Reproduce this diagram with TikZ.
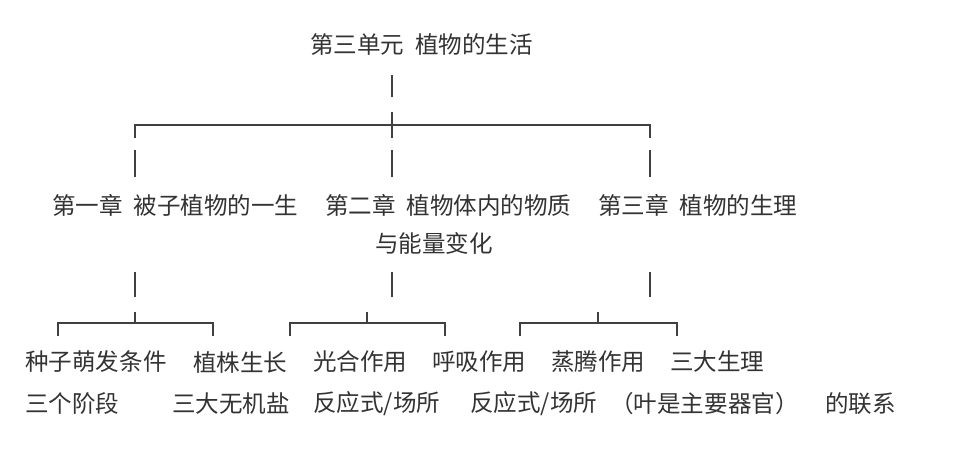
\documentclass[tikz,border=0pt]{standalone}
\usepackage{fontspec}
\newfontfamily\cjk{Noto Sans CJK SC}
\begin{document}
\begin{tikzpicture}[
    x=0.02cm, y=-0.02cm,
    txt/.style={anchor=west, inner sep=0pt, font=\cjk\fontsize{13.4pt}{15pt}\selectfont, text=black!80},
    ln/.style={draw=black!75, line width=0.6pt}
]
\useasboundingbox (0,0) rectangle (960,453);

% title and chapters
\node[txt] (unit) at (310,45) {第三单元\ \ 植物的生活};
\node[txt] (ch1) at (52,205) {第一章\ \ 被子植物的一生};
\node[txt] (ch2) at (325,205) {第二章\ \ 植物体内的物质};
\node[txt] (ch2b) at (375,243) {与能量变化};
\node[txt] (ch3) at (598,205) {第三章\ \ 植物的生理};

% leaves
\node[txt] (a1) at (25,362) {种子萌发条件};
\node[txt] (a2) at (25,404) {三个阶段};
\node[txt] (b1) at (193,362) {植株生长};
\node[txt] (b2) at (172,404) {三大无机盐};
\node[txt] (c1) at (313,362) {光合作用};
\node[txt] (c2) at (313,404) {反应式/场所};
\node[txt] (d1) at (432,362) {呼吸作用};
\node[txt] (d2) at (470,404) {反应式/场所};
\node[txt] (e1) at (551,362) {蒸腾作用};
\node[txt] (e2) at (610,404) {（叶是主要器官）};
\node[txt] (f1) at (670,362) {三大生理};
\node[txt] (f2) at (825,404) {的联系};

% upper bracket
\draw[ln] (392,75) -- (392,97);
\draw[ln] (135,138) |- (650,125) -- (650,138);
\draw[ln] (392,112) -- (392,138);
\foreach \x in {135,392,650}
    \draw[ln] (\x,150) -- (\x,177);

% lower brackets
\foreach \x in {135,392,650}
    \draw[ln] (\x,272) -- (\x,297);
\foreach \l/\m/\r in {58/135/213, 290/367/445, 520/598/677} {
    \draw[ln] (\l,336) |- (\r,323) -- (\r,336);
    \draw[ln] (\m,312) -- (\m,323);
}
\end{tikzpicture}
\end{document}
